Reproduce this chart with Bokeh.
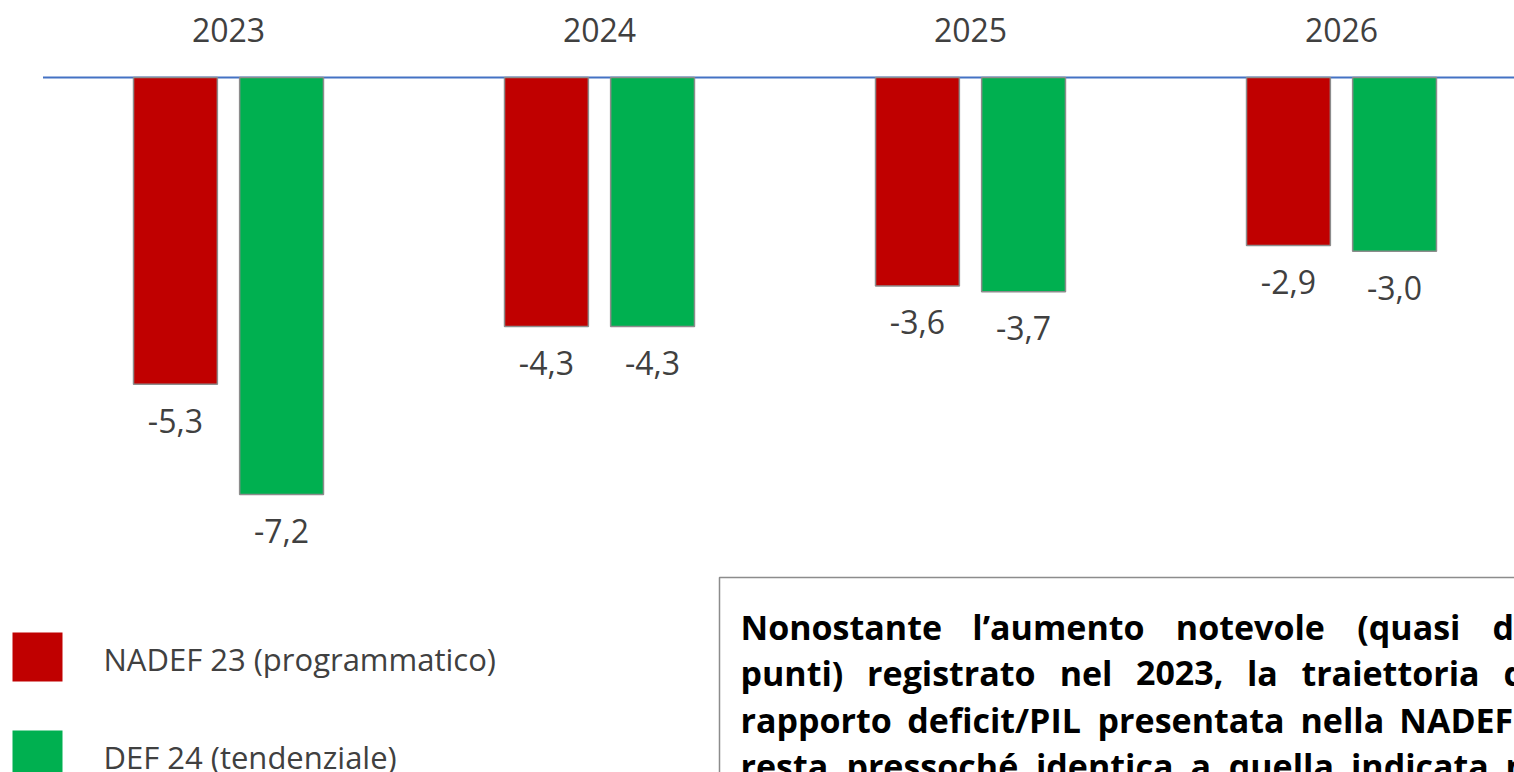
from bokeh.plotting import figure
from bokeh.models import ColumnDataSource, Range1d
from bokeh.transform import dodge
from bokeh.core.properties import value
from bokeh.embed import file_html
from bokeh.resources import INLINE

# ---------------- data ----------------
years = ["2023", "2024", "2025", "2026"]
nadef23 = [-5.3, -4.3, -3.6, -2.9]   # NADEF 23 (programmatico)
def24 = [-7.2, -4.3, -3.7, -3.0]     # DEF 24 (tendenziale)
series_names = ["NADEF 23 (programmatico)", "DEF 24 (tendenziale)"]
series_colors = ["#C00000", "#00B050"]
note_lines = [
    "Nonostante l\u2019aumento notevole (quasi d",
    "punti) registrato nel 2023, la traiettoria d",
    "rapporto deficit/PIL presentata nella NADEF",
    "resta pressoch\u00e9 identica a quella indicata n",
]

def fmt(v):
    return f"{v:.1f}".replace(".", ",")

# ---------------- geometry ----------------
W, H = 1514, 772
CAT_PX = 371.0
PX_PER_UNIT = 57.9
x_start = -228 / CAT_PX
x_end = x_start + W / CAT_PX
y_end = 77 / PX_PER_UNIT
y_start = y_end - H / PX_PER_UNIT

def X(px):
    return x_start + px / CAT_PX

def Y(py):
    return y_end - py / PX_PER_UNIT

FONT = value("Open Sans")
OFF = 0.143
BAR_W = 0.226

p = figure(width=W, height=H, x_range=Range1d(x_start, x_end),
           y_range=Range1d(y_start, y_end), output_backend="svg",
           toolbar_location=None, x_axis_location=None, y_axis_location=None,
           min_border=0, min_border_left=0, min_border_right=0,
           min_border_top=0, min_border_bottom=0)
p.outline_line_color = None
p.grid.visible = False
p.background_fill_color = "white"
p.border_fill_color = "white"

xs = list(range(len(years)))
src = ColumnDataSource(dict(
    x=xs, year=years, a=nadef23, b=def24,
    a_lab=[fmt(v) for v in nadef23], b_lab=[fmt(v) for v in def24],
    a_ly=[v - 36.5 / PX_PER_UNIT for v in nadef23],
    b_ly=[v - 36.5 / PX_PER_UNIT for v in def24],
    zero=[0] * len(years),
    yl=[47.5 / PX_PER_UNIT] * len(years),
))

# baseline (category axis line)
p.segment(x0=[-0.5], y0=[0], x1=[x_end + 1], y1=[0], line_color="#4472C4", line_width=2)

p.vbar(x=dodge("x", -OFF), width=BAR_W, top="zero", bottom="a", source=src,
       fill_color=series_colors[0], line_color="#8C8C8C", line_width=1.5)
p.vbar(x=dodge("x", OFF), width=BAR_W, top="zero", bottom="b", source=src,
       fill_color=series_colors[1], line_color="#8C8C8C", line_width=1.5)

common = dict(text_font=FONT, text_font_size="32px", text_color="#404040",
              text_align="center", text_baseline="middle")
p.text(x="x", y="yl", text="year", source=src, **common)
p.text(x=dodge("x", -OFF), y="a_ly", text="a_lab", source=src, **common)
p.text(x=dodge("x", OFF), y="b_ly", text="b_lab", source=src, **common)

# legend
leg_tops = [632, 730]
leg_text_y = [658, 756]
for i in range(2):
    p.quad(left=[X(12)], right=[X(62)], top=[Y(leg_tops[i])], bottom=[Y(leg_tops[i] + 49)],
           fill_color=series_colors[i], line_color=None)
    p.text(x=[X(103)], y=[Y(leg_text_y[i])], text=[series_names[i]], text_font=FONT,
           text_font_size="31px", text_color="#404040", text_align="left",
           text_baseline="middle")

# note box (justified text, words spread between anchors)
EM = {'a': .60, 'b': .63, 'c': .51, 'd': .63, 'e': .60, 'f': .40, 'g': .56, 'h': .64,
      'i': .30, 'l': .30, 'm': .96, 'n': .64, 'o': .62, 'p': .63, 'q': .63, 'r': .45,
      's': .50, 't': .44, 'u': .64, 'v': .58, '\u00e9': .60, '\u2019': .25, '(': .37,
      ')': .37, ',': .28, '/': .43, 'N': .78, 'A': .70, 'D': .74, 'E': .56, 'F': .55,
      'P': .63, 'I': .34, 'L': .55}
FS = 34

def wpx(word):
    return sum(EM.get(ch, .57) for ch in word) * FS

# (first word left, anchor, anchor kind: 'lastleft' or 'right')
anchors = [(740, 1492, "lastleft"), (740, 1503, "lastleft"),
           (740, 1512, "right"), (740, 1505, "lastleft")]
baselines = [626, 672, 719, 765]

p.quad(left=[X(719)], right=[X(1700)], top=[Y(577)], bottom=[Y(1000)],
       fill_color=None, line_color="#8C8C8C", line_width=1.5)
for line, (x0, anc, kind), by in zip(note_lines, anchors, baselines):
    words = line.split(" ")
    widths = [wpx(w) for w in words]
    if kind == "lastleft":
        gap = (anc - x0 - sum(widths[:-1])) / (len(words) - 1)
    else:
        gap = (anc - x0 - sum(widths)) / (len(words) - 1)
    pos = []
    cur = x0
    for wdt in widths:
        pos.append(cur)
        cur += wdt + gap
    p.text(x=[X(v) for v in pos], y=[Y(by)] * len(words), text=words, text_font=FONT,
           text_font_size=f"{FS}px", text_font_style="bold", text_color="#000000",
           text_align="left", text_baseline="alphabetic")

open("out.html", "w").write(file_html(p, INLINE))
